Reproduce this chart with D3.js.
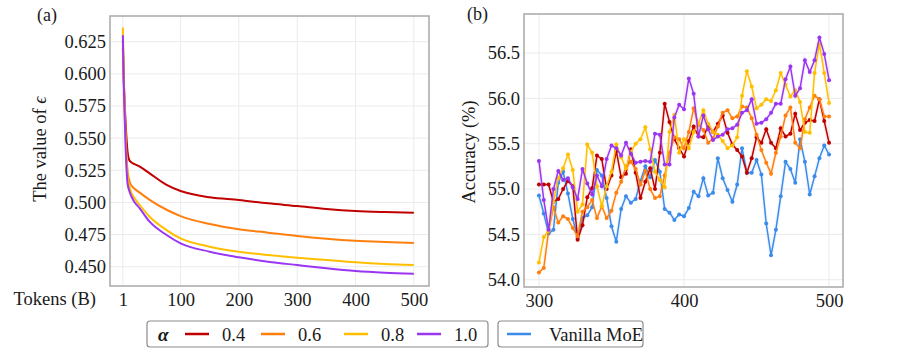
<!DOCTYPE html>
<html>
<head>
<meta charset="utf-8">
<script src="https://cdn.jsdelivr.net/npm/d3@7"></script>
<style>
  body { margin: 0; background: #fff; }
  svg text { font-family: "Liberation Serif", "Times New Roman", Tinos, "DejaVu Serif", serif !important; fill: #1a1a1a; }
</style>
</head>
<body>
<div id="chart"></div>
<script>
// ---- panel (a): value of epsilon vs tokens ----
var epsTokens = [1, 3, 6, 9, 12, 16, 20, 30, 47, 76, 100, 150, 200, 250, 300, 350, 400, 450, 500];
var eps04 = [0.620, 0.590, 0.560, 0.540, 0.533, 0.531, 0.530, 0.5278, 0.5226, 0.5136, 0.5089, 0.5040, 0.5019, 0.4993, 0.4972, 0.4949, 0.4933, 0.4925, 0.4920];
var eps06 = [0.626, 0.590, 0.550, 0.525, 0.517, 0.513, 0.511, 0.5076, 0.5020, 0.4943, 0.4894, 0.4832, 0.4791, 0.4765, 0.4739, 0.4718, 0.4702, 0.4692, 0.4684];
var eps08 = [0.636, 0.590, 0.545, 0.520, 0.513, 0.507, 0.504, 0.4980, 0.4889, 0.4785, 0.4720, 0.4656, 0.4617, 0.4591, 0.4570, 0.4552, 0.4534, 0.4521, 0.4513];
var eps10 = [0.630, 0.585, 0.540, 0.515, 0.509, 0.5044, 0.501, 0.4954, 0.4850, 0.4747, 0.4682, 0.4617, 0.4573, 0.4539, 0.4513, 0.4488, 0.4467, 0.4454, 0.4446];
var epsTicksY = [0.450, 0.475, 0.500, 0.525, 0.550, 0.575, 0.600, 0.625];
var epsTicksX = [1, 100, 200, 300, 400, 500];

// ---- panel (b): accuracy, checkpoints every 10/3 B tokens from 300 to 500 ----
var accTokens = d3.range(61).map(function(i) { return 300 + i * 10 / 3; });
var acc04 = [55.05, 55.05, 55.05, 54.86, 54.89, 55.00, 55.09, 55.03, 54.44, 54.60, 54.91, 55.01, 55.37, 55.33, 55.00, 55.15,
             55.42, 55.13, 55.17, 55.44, 55.18, 54.90, 55.08, 55.23, 55.00, 55.40, 55.94, 55.74, 55.55, 55.45, 55.36, 55.53,
             55.69, 55.58, 55.57, 55.70, 55.63, 55.72, 55.81, 55.62, 55.49, 55.43, 55.36, 55.18, 55.34, 55.57, 55.51, 55.66,
             55.51, 55.45, 55.67, 55.58, 55.61, 55.83, 55.65, 55.73, 55.76, 55.75, 55.99, 55.75, 55.51];
var acc06 = [54.08, 54.13, 54.54, 54.80, 54.63, 54.70, 54.67, 54.57, 54.48, 54.75, 54.80, 54.88, 54.68, 54.81, 54.68, 54.76,
             54.96, 55.08, 55.25, 55.30, 55.22, 55.05, 55.20, 55.00, 54.90, 54.92, 55.15, 55.40, 55.57, 55.55, 55.45, 55.63,
             55.89, 55.71, 55.65, 55.51, 55.56, 55.69, 55.84, 55.87, 55.78, 55.80, 55.91, 55.90, 55.78, 55.60, 55.43, 55.29,
             55.17, 55.40, 55.58, 55.81, 55.90, 55.51, 55.45, 55.77, 55.90, 56.03, 55.99, 55.80, 55.80];
var acc08 = [54.19, 54.47, 54.54, 54.86, 55.12, 55.23, 55.38, 55.21, 54.75, 54.83, 55.49, 55.40, 55.03, 54.81, 55.03, 55.19,
             55.49, 55.35, 55.23, 55.41, 55.50, 55.55, 55.68, 55.44, 55.19, 55.10, 55.02, 55.63, 55.82, 55.40, 55.55, 55.45,
             55.63, 55.72, 55.87, 55.72, 55.63, 55.60, 55.53, 55.45, 55.48, 55.57, 56.03, 56.30, 56.13, 55.89, 55.93, 55.99,
             55.97, 56.09, 56.28, 56.15, 56.02, 56.09, 55.96, 55.63, 55.62, 56.28, 56.60, 56.28, 55.95];
var acc10 = [55.31, 54.88, 54.55, 55.00, 55.20, 55.10, 55.12, 55.02, 54.89, 55.22, 55.06, 54.94, 55.15, 55.03, 55.33, 55.48,
             55.45, 55.37, 55.51, 55.39, 55.29, 55.30, 55.31, 55.30, 55.61, 55.60, 55.27, 55.27, 55.79, 55.93, 55.88, 56.22,
             56.05, 55.58, 55.81, 55.66, 55.54, 55.58, 55.60, 55.66, 55.67, 55.71, 55.84, 55.87, 55.99, 55.72, 55.73, 55.77,
             55.84, 55.94, 55.94, 56.21, 56.35, 56.03, 56.11, 56.42, 56.29, 56.42, 56.67, 56.49, 56.20];
var accVanilla = [54.93, 54.73, 54.51, 54.55, 55.07, 55.19, 54.95, 54.67, 54.46, 54.68, 54.71, 54.80, 55.21, 55.15, 54.90, 54.59,
                  54.42, 54.78, 54.92, 54.85, 54.89, 55.09, 55.25, 55.13, 55.32, 55.19, 54.78, 54.74, 54.66, 54.72, 54.70, 54.79,
                  54.97, 54.92, 55.12, 54.93, 54.96, 55.34, 55.12, 54.99, 54.86, 55.05, 55.45, 55.18, 55.18, 55.32, 55.16, 54.62,
                  54.27, 54.55, 54.92, 55.30, 55.22, 55.07, 55.55, 55.30, 54.94, 55.14, 55.34, 55.48, 55.38];
var accTicksY = [54.0, 54.5, 55.0, 55.5, 56.0, 56.5];
var accTicksX = [300, 400, 500];

var alphaLabels = ["0.4", "0.6", "0.8", "1.0"];
var color = ["#c00000", "#ff7f0e", "#ffbf00", "#9a35f2"];
var vanillaColor = "#3b8beb";

var svg = d3.select("#chart").append("svg")
    .attr("width", 897)
    .attr("height", 352);

function panel(box, xs, ys, xTicks, yTicks, yFmt) {
    var g = svg.append("g");
    // grid
    g.selectAll(".gy").data(yTicks).enter().append("line")
        .attr("x1", box.left).attr("x2", box.right)
        .attr("y1", function(d) { return ys(d); }).attr("y2", function(d) { return ys(d); })
        .attr("stroke", "#ebebeb").attr("stroke-width", 1);
    g.selectAll(".gx").data(xTicks).enter().append("line")
        .attr("y1", box.top).attr("y2", box.bottom)
        .attr("x1", function(d) { return xs(d); }).attr("x2", function(d) { return xs(d); })
        .attr("stroke", "#ebebeb").attr("stroke-width", 1);

    var yAxis = d3.axisLeft(ys).tickValues(yTicks).tickFormat(yFmt).tickSize(0).tickPadding(4);
    g.append("g").attr("transform", "translate(" + box.left + ",0)").call(yAxis)
        .attr("font-family", null)
        .call(function(a) { a.select(".domain").remove(); })
        .selectAll("text").style("font-size", "18.5px").attr("fill", "#1a1a1a");

    var xAxis = d3.axisBottom(xs).tickValues(xTicks).tickSize(0).tickPadding(7);
    g.append("g").attr("transform", "translate(0," + box.bottom + ")").call(xAxis)
        .attr("font-family", null)
        .call(function(a) { a.select(".domain").remove(); })
        .selectAll("text").style("font-size", "18.5px").attr("fill", "#1a1a1a");
    return g;
}

// ----- panel (a) -----
var boxA = {left: 110, right: 429, top: 16, bottom: 286};
var xA = d3.scaleLinear().domain([-21, 526]).range([boxA.left, boxA.right]);
var yA = d3.scaleLinear().domain([0.435, 0.645]).range([boxA.bottom, boxA.top]);
var gA = panel(boxA, xA, yA, epsTicksX, epsTicksY, d3.format(".3f"));

var lineA = d3.line()
    .x(function(d) { return xA(d[0]); })
    .y(function(d) { return yA(d[1]); })
    .curve(d3.curveMonotoneX);

[eps04, eps06, eps08, eps10].forEach(function(s, k) {
    gA.append("path")
        .datum(epsTokens.map(function(t, i) { return [t, s[i]]; }))
        .attr("fill", "none")
        .attr("stroke", color[k])
        .attr("stroke-width", 2)
        .attr("d", lineA);
});

gA.append("rect")
    .attr("x", boxA.left).attr("y", boxA.top)
    .attr("width", boxA.right - boxA.left).attr("height", boxA.bottom - boxA.top)
    .attr("fill", "none").attr("stroke", "#a8a8a8").attr("stroke-width", 1.5);

svg.append("text").attr("x", 37).attr("y", 21).style("font-size", "18px").text("(a)");
svg.append("text").attr("x", 96).attr("y", 305).attr("text-anchor", "end")
    .style("font-size", "18.5px").text("Tokens (B)");
var yLabA = svg.append("text")
    .attr("transform", "translate(46,149) rotate(-90)")
    .attr("text-anchor", "middle")
    .style("font-size", "18.5px");
yLabA.append("tspan").text("The value of ");
yLabA.append("tspan").style("font-style", "italic").text("\u03f5");

// ----- panel (b) -----
var boxB = {left: 524, right: 843, top: 14, bottom: 287};
var xB = d3.scaleLinear().domain([289.7, 509.6]).range([boxB.left, boxB.right]);
var yB = d3.scaleLinear().domain([53.92, 56.93]).range([boxB.bottom, boxB.top]);
var gB = panel(boxB, xB, yB, accTicksX, accTicksY, d3.format(".1f"));

var lineB = d3.line()
    .x(function(d) { return xB(d[0]); })
    .y(function(d) { return yB(d[1]); });

var accSeries = [
    {vals: accVanilla, c: vanillaColor},
    {vals: acc04, c: color[0]},
    {vals: acc06, c: color[1]},
    {vals: acc08, c: color[2]},
    {vals: acc10, c: color[3]}
];

// faint halo under each series
accSeries.forEach(function(s) {
    var pts = accTokens.map(function(t, i) { return [t, s.vals[i]]; });
    gB.append("path").datum(pts)
        .attr("fill", "none").attr("stroke", s.c)
        .attr("stroke-opacity", 0.08).attr("stroke-width", 4)
        .attr("d", lineB);
});

accSeries.forEach(function(s) {
    var pts = accTokens.map(function(t, i) { return [t, s.vals[i]]; });
    gB.append("path").datum(pts)
        .attr("fill", "none").attr("stroke", s.c)
        .attr("stroke-width", 1.5)
        .attr("d", lineB);
    gB.append("g").selectAll("circle").data(pts).enter().append("circle")
        .attr("cx", function(d) { return xB(d[0]); })
        .attr("cy", function(d) { return yB(d[1]); })
        .attr("r", 2)
        .attr("fill", s.c);
});

gB.append("rect")
    .attr("x", boxB.left).attr("y", boxB.top)
    .attr("width", boxB.right - boxB.left).attr("height", boxB.bottom - boxB.top)
    .attr("fill", "none").attr("stroke", "#a8a8a8").attr("stroke-width", 1.5);

svg.append("text").attr("x", 467).attr("y", 20).style("font-size", "18px").text("(b)");
svg.append("text")
    .attr("transform", "translate(475,152) rotate(-90)")
    .attr("text-anchor", "middle")
    .style("font-size", "18.5px")
    .text("Accuracy (%)");

// ----- legend -----
var leg = svg.append("g");
leg.append("rect").attr("x", 147).attr("y", 321).attr("width", 341).attr("height", 26).attr("rx", 3)
    .attr("fill", "#fff").attr("stroke", "#8c8c8c").attr("stroke-width", 1.2);
leg.append("rect").attr("x", 498).attr("y", 321).attr("width", 145).attr("height", 26).attr("rx", 3)
    .attr("fill", "#fff").attr("stroke", "#8c8c8c").attr("stroke-width", 1.2);

leg.append("text").attr("x", 158).attr("y", 341)
    .style("font-size", "19px").style("font-weight", "bold").style("font-style", "italic")
    .text("\u03b1");

var legX = [185, 261, 344, 417];
alphaLabels.forEach(function(lab, k) {
    leg.append("line")
        .attr("x1", legX[k]).attr("x2", legX[k] + 24)
        .attr("y1", 334).attr("y2", 334)
        .attr("stroke", color[k]).attr("stroke-width", 2.5);
    leg.append("text").attr("x", legX[k] + 37).attr("y", 341)
        .style("font-size", "18.5px").text(lab);
});

leg.append("line").attr("x1", 507).attr("x2", 531).attr("y1", 334).attr("y2", 334)
    .attr("stroke", vanillaColor).attr("stroke-width", 2.5);
leg.append("text").attr("x", 549).attr("y", 341).style("font-size", "18.5px").text("Vanilla MoE");
</script>
</body>
</html>
